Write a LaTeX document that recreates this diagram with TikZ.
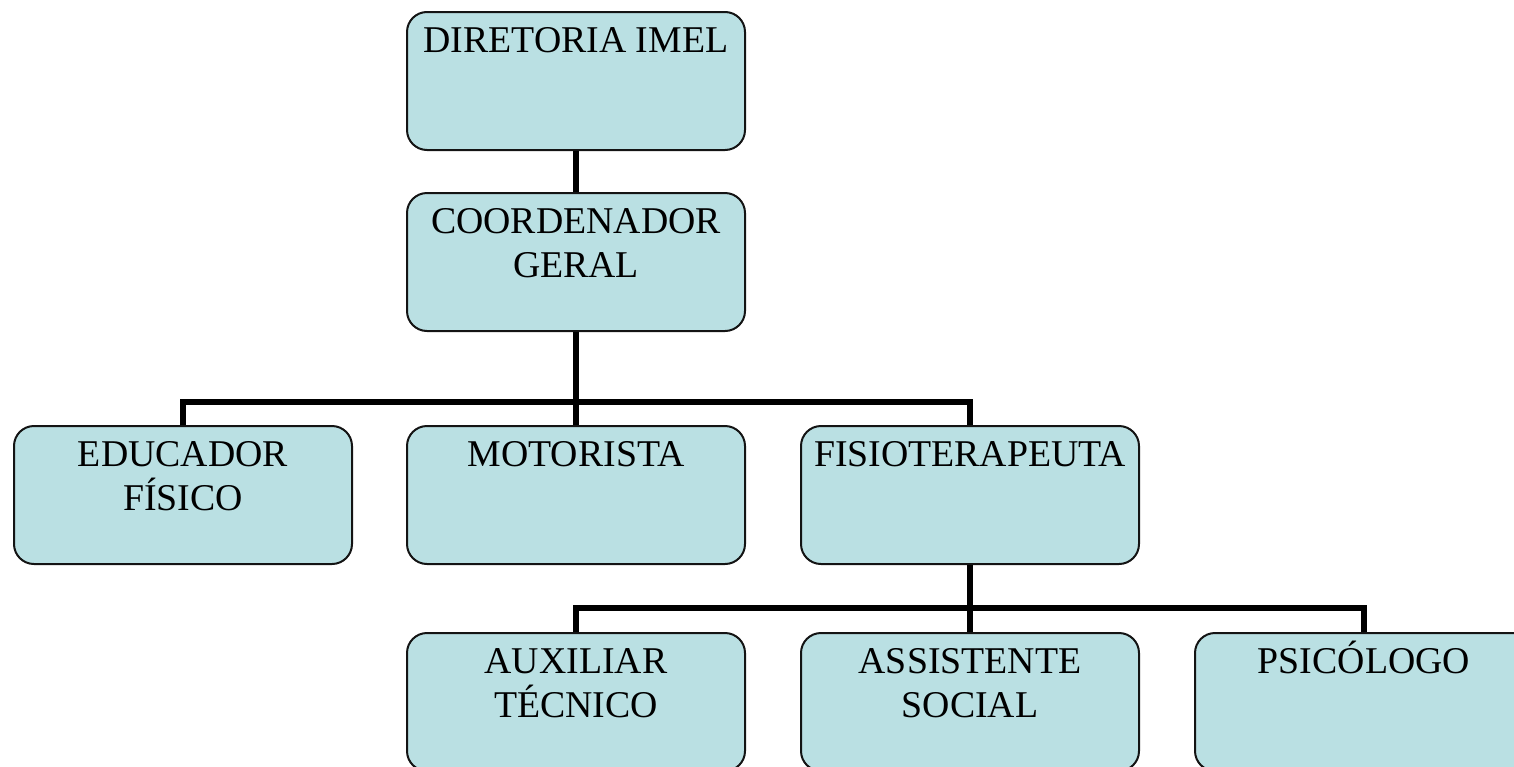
\documentclass[tikz,border=0pt]{standalone}
\usepackage{fontspec}
\setmainfont{Liberation Serif}
\usetikzlibrary{positioning}
\definecolor{org-fill}{RGB}{186, 224, 227}
\definecolor{org-line}{RGB}{ 20,  20,  20}
\newcommand{\orgtext}[1]{\parbox[c][69pt][t]{169pt}{\centering\fontsize{18.9}{22}\selectfont\rule{0pt}{20pt}#1}}

\begin{document}
\begin{tikzpicture}[x=0.5pt, y=-0.5pt,
	orgbox/.style={draw=org-line, line width=1pt, fill=org-fill, rounded corners=10pt,
		inner sep=0pt, minimum width=169pt, minimum height=69pt},
	link/.style={line width=2.8pt, black}]
	\useasboundingbox (0,0) rectangle (1514,766);
	\clip (0,0) rectangle (1514,766);

	% top of the chart
	\node[orgbox] (dir) at (576,81) {\orgtext{DIRETORIA IMEL}};
	\node[orgbox] (coord) at (576,262) {\orgtext{COORDENADOR\\GERAL}};

	% second level
	\node[orgbox] (edu) at (183,495) {\orgtext{EDUCADOR\\FÍSICO}};
	\node[orgbox] (mot) at (576,495) {\orgtext{MOTORISTA}};
	\node[orgbox] (fis) at (970,495) {\orgtext{FISIOTERAPEUTA}};

	% third level
	\node[orgbox] (aux) at (576,702) {\orgtext{AUXILIAR\\TÉCNICO}};
	\node[orgbox] (ass) at (970,702) {\orgtext{ASSISTENTE\\SOCIAL}};
	\node[orgbox] (psi) at (1364,702) {\orgtext{PSICÓLOGO}};

	\coordinate (bar1) at (576,402);
	\coordinate (bar2) at (970,608);

	\draw[link] (dir.south) -- (coord.north);
	\draw[link] (coord.south) -- (mot.north);
	\draw[link] (edu.north) |- (bar1) -| (fis.north);
	\draw[link] (fis.south) -- (ass.north);
	\draw[link] (aux.north) |- (bar2) -| (psi.north);

\end{tikzpicture}
\end{document}
